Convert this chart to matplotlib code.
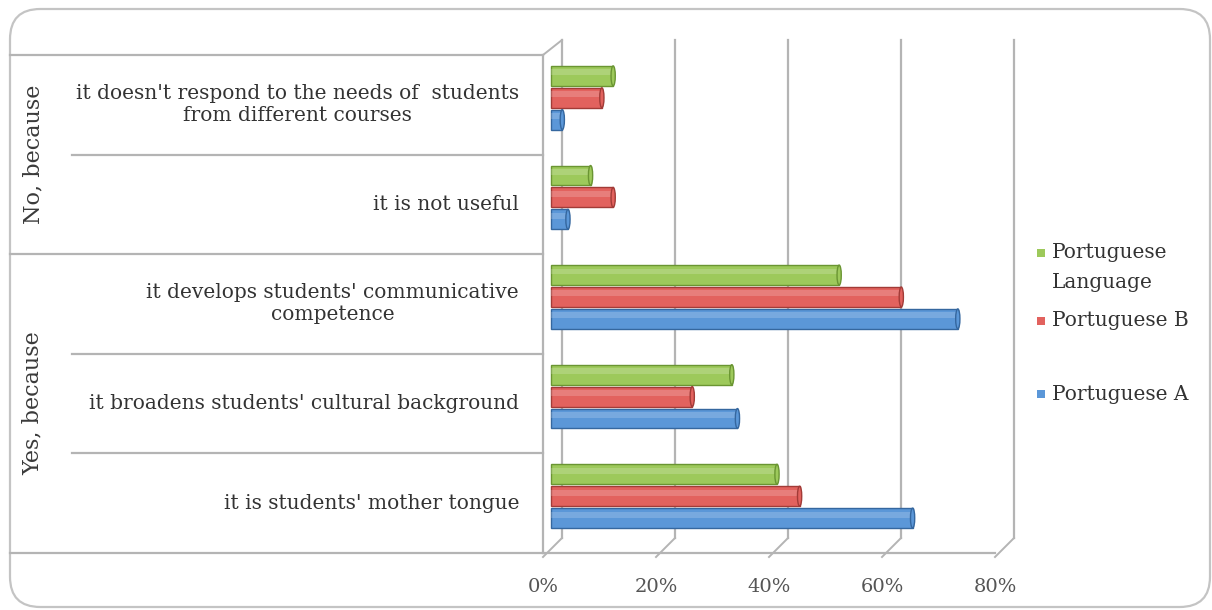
import numpy as np
import matplotlib.pyplot as plt
from matplotlib.transforms import ScaledTranslation, blended_transform_factory
from matplotlib.patches import FancyBboxPatch, Rectangle, Ellipse
from matplotlib.lines import Line2D

# survey answers, bottom row first
reasons = ["it is students' mother tongue",
           "it broadens students' cultural background",
           "it develops students' communicative\ncompetence",
           "it is not useful",
           "it doesn't respond to the needs of  students\nfrom different courses"]
groups = ["Yes, because", "No, because"]
group_rows = [(0, 2), (3, 4)]
series = ["Portuguese A", "Portuguese B", "Portuguese\nLanguage"]
port_a = [64, 33, 72, 3, 2]
port_b = [44, 25, 62, 11, 9]
port_lang = [40, 32, 51, 7, 11]
xticks = [0, 20, 40, 60, 80]

colors = ["#5b97d8", "#e2625e", "#9dc95b"]
edges = ["#35679f", "#a23b37", "#6a9532"]
grid_c = "#b4b4b4"
serif = "DejaVu Serif"

W, H = 1212, 610
fig = plt.figure(figsize=(W / 100, H / 100), dpi=100)
fig.patch.set_facecolor("white")

# rounded chart border
fig.patches.append(FancyBboxPatch((10 / W, 3 / H), 1200 / W, 598 / H,
                                  boxstyle="round,pad=0,rounding_size=0.025",
                                  mutation_aspect=W / H,
                                  transform=fig.transFigure, facecolor="none",
                                  edgecolor="#c4c4c4", linewidth=1.6))

# front plane of the 3d box
ax = fig.add_axes([543 / W, (H - 553) / H, (995 - 543) / W, (553 - 55) / H])
ax.set_xlim(0, 80)
ax.set_ylim(-0.5, 4.5)
ax.patch.set_visible(False)
for s in ax.spines.values():
    s.set_visible(False)
ax.set_yticks([])
ax.set_xticks(xticks)
ax.set_xticklabels([f"{t}%" for t in xticks], fontsize=14, color="#555555",
                   family=serif)
ax.tick_params(axis="x", length=0, pad=18)

px = fig.dpi_scale_trans
back = ax.transData + ScaledTranslation(19 / 100, 15 / 100, px)
front = ax.transData

# back wall gridlines and floor diagonals
for t in xticks:
    ax.plot([t, t], [-0.5, 4.5], color=grid_c, lw=1.6, transform=back,
            clip_on=False)
    p0 = front.transform((t, -0.5))
    p1 = back.transform((t, -0.5))
    fig.add_artist(Line2D([p0[0] / W, p1[0] / W], [(p0[1] - 4) / H, p1[1] / H],
                          color=grid_c, lw=1.4))
# left wall top edge and front edges
p0 = front.transform((0, 4.5))
p1 = back.transform((0, 4.5))
fig.add_artist(Line2D([p0[0] / W, p1[0] / W], [p0[1] / H, p1[1] / H],
                      color=grid_c, lw=1.4))
ax.plot([0, 0], [-0.5, 4.5], color=grid_c, lw=1.6, clip_on=False)
ax.plot([0, 80], [-0.5, -0.5], color=grid_c, lw=1.6, clip_on=False)

# bars, pushed slightly back into the box
y = np.arange(len(reasons))
bar_shift = ax.transData + ScaledTranslation(8 / 100, 7 / 100, px)
h = 0.2
for k, vals in enumerate([port_a, port_b, port_lang]):
    yy = y + (k - 1) * 0.22
    bars = ax.barh(yy, vals, height=h, color=colors[k], edgecolor=edges[k],
                   linewidth=1.0, zorder=3)
    for b in bars:
        b.set_transform(bar_shift)
    hl = ax.barh(yy + h * 0.18, vals, height=h * 0.3, color="white", alpha=0.18,
                 linewidth=0, zorder=4)
    for b in hl:
        b.set_transform(bar_shift)
    for v, yc in zip(vals, yy):
        ax.add_patch(Ellipse((v, yc), 0.75, h, facecolor=colors[k],
                             edgecolor=edges[k], linewidth=1.0, zorder=5,
                             transform=bar_shift))

# category table on the left
tab = blended_transform_factory(fig.transFigure, ax.transData)
for yb in [-0.5, 2.5, 4.5]:
    fig.add_artist(Line2D([10 / W, 543 / W], [yb, yb], color=grid_c, lw=1.6,
                          transform=tab))
for yb in [0.5, 1.5, 3.5]:
    fig.add_artist(Line2D([72 / W, 543 / W], [yb, yb], color=grid_c, lw=1.6,
                          transform=tab))
for i, lab in enumerate(reasons):
    fig.text(519 / W, i, lab, transform=tab, ha="right", va="center",
             multialignment="center", fontsize=14.5, family=serif,
             color="#333333", linespacing=1.2)
for g, (r0, r1) in zip(groups, group_rows):
    fig.text(33 / W, (r0 + r1) / 2, g, transform=tab, ha="center",
             va="center", rotation=90, fontsize=16, family=serif,
             color="#3a3a3a")

# legend
for k, yc in zip([2, 1, 0], [253, 321, 394]):
    fig.patches.append(Rectangle((1037 / W, (H - yc - 4) / H), 8 / W, 8 / H,
                                 transform=fig.transFigure,
                                 facecolor=colors[k], edgecolor="none"))
    fig.text(1052 / W, (H - yc) / H, series[k].split("\n")[0], ha="left",
             va="center", fontsize=14.5, family=serif, color="#333333")
fig.text(1052 / W, (H - 283) / H, series[2].split("\n")[1], ha="left",
         va="center", fontsize=14.5, family=serif, color="#333333")

fig.savefig("out.png", dpi=100, facecolor="white")
